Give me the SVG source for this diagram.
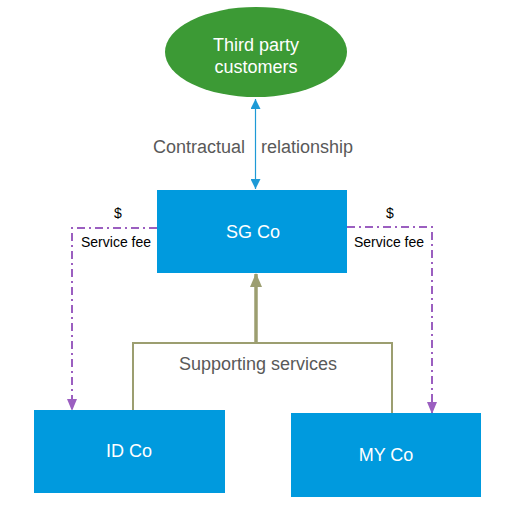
<svg xmlns="http://www.w3.org/2000/svg" width="514" height="520" viewBox="0 0 514 520">
<style>
.box{fill:#009ADE}
.wt{fill:#fff;font-family:"Liberation Sans",Arial,sans-serif;font-size:18px;text-anchor:middle}
.gt{fill:#595959;font-family:"Liberation Sans",Arial,sans-serif;font-size:18px}
.bt{fill:#000;font-family:"Liberation Sans",Arial,sans-serif;font-size:14px}
.fee{fill:none;stroke:#9B5FC0;stroke-width:2;stroke-dasharray:8,4,2,4}
.sup{fill:none;stroke:#9C9E70;stroke-width:2}
</style>
<defs>
<marker id="pa" markerWidth="12" markerHeight="10" refX="11" refY="5" orient="auto" markerUnits="userSpaceOnUse"><path d="M0,0L12,5L0,10Z" fill="#9B5FC0"/></marker>
<marker id="ba" markerWidth="10" markerHeight="10" refX="10" refY="5" orient="auto-start-reverse" markerUnits="userSpaceOnUse"><path d="M0,0L10,5L0,10Z" fill="#1E9AD6"/></marker>
<marker id="oa" markerWidth="14" markerHeight="12" refX="13" refY="6" orient="auto" markerUnits="userSpaceOnUse"><path d="M0,0L14,6L0,12Z" fill="#9C9E70"/></marker>
</defs>
<g id="connectors">
<line x1="255.5" y1="99" x2="255.5" y2="189" stroke="#1E9AD6" stroke-width="1.2" marker-start="url(#ba)" marker-end="url(#ba)"/>
<polyline class="fee" points="157,228 72,228 72,410" marker-end="url(#pa)"/>
<polyline class="fee" points="347,227 432,227 432,413" marker-end="url(#pa)"/>
<polyline class="sup" points="133,410 133,343 392,343 392,413"/>
<line x1="256" y1="343" x2="256" y2="274" stroke="#9C9E70" stroke-width="3.5" marker-end="url(#oa)"/>
</g>
<g id="third-party">
<ellipse cx="256" cy="52" rx="91" ry="45" fill="#3C9A35"/>
<text class="wt" x="256" y="51">Third party</text>
<text class="wt" x="256" y="73">customers</text>
</g>
<g id="sg-co">
<rect class="box" x="157" y="190" width="190" height="83"/>
<text class="wt" x="253" y="238">SG Co</text>
</g>
<g id="id-co">
<rect class="box" x="34" y="410" width="191" height="83"/>
<text class="wt" x="129" y="457">ID Co</text>
</g>
<g id="my-co">
<rect class="box" x="291" y="413" width="190" height="84"/>
<text class="wt" x="386" y="461">MY Co</text>
</g>
<g id="labels">
<text class="gt" x="153" y="153">Contractual</text>
<text class="gt" x="261" y="153">relationship</text>
<text class="gt" x="258" y="370" text-anchor="middle">Supporting services</text>
<text class="bt" x="118" y="218" text-anchor="middle">$</text>
<text class="bt" x="81" y="247">Service fee</text>
<text class="bt" x="390" y="218" text-anchor="middle">$</text>
<text class="bt" x="354" y="247">Service fee</text>
</g>
</svg>
